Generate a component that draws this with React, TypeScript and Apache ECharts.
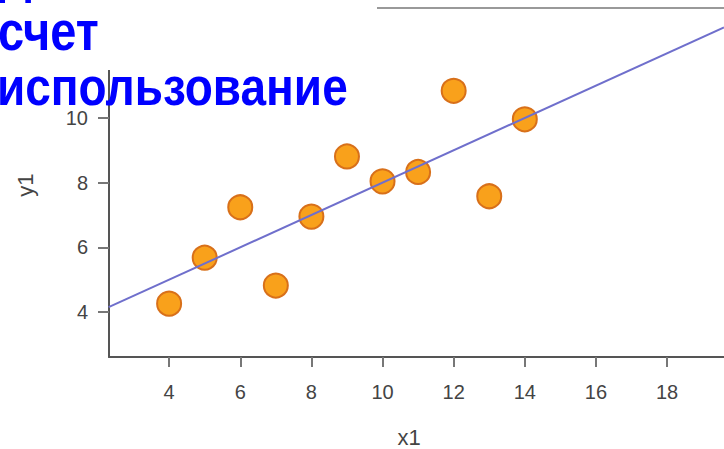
import React, { useEffect, useRef } from "react";
import * as echarts from "echarts";

const xValues = [10, 8, 13, 9, 11, 14, 6, 4, 12, 7, 5];
const yValues = [8.04, 6.95, 7.58, 8.81, 8.33, 9.96, 7.24, 4.26, 10.84, 4.82, 5.68];
const fitX = [2.3, 19.6];
const fitY = [4.15, 12.8];
const xTicks = [4, 6, 8, 10, 12, 14, 16, 18];
const yTicks = [4, 6, 8, 10];
const titleLines = ["Д", "счет", "использование"];

export default function App() {
  const ref = useRef<HTMLDivElement>(null);
  useEffect(() => {
    const chart = echarts.init(ref.current!, null, { renderer: "svg" });
    const font = "Liberation Sans, Arial, sans-serif";
    chart.setOption({
      animation: false,
      backgroundColor: "#ffffff",
      grid: { left: 109, top: 8, width: 615, height: 349, containLabel: false },
      xAxis: {
        type: "value",
        min: 2.31,
        max: 19.6,
        axisLine: { show: true, onZero: false, lineStyle: { color: "#555", width: 2 } },
        axisTick: { show: true, customValues: xTicks, length: 10, lineStyle: { color: "#777", width: 2 } },
        axisLabel: { customValues: xTicks, margin: 25, fontSize: 20, color: "#444", fontFamily: font },
        splitLine: { show: false },
      },
      yAxis: {
        type: "value",
        min: 2.61,
        max: 13.4,
        axisLine: { show: true, onZero: false, lineStyle: { color: "#555", width: 2 } },
        axisTick: { show: true, customValues: yTicks, length: 11, lineStyle: { color: "#777", width: 2 } },
        axisLabel: { customValues: yTicks, margin: 21, fontSize: 20, color: "#444", fontFamily: font },
        splitLine: { show: false },
      },
      series: [
        {
          type: "scatter",
          data: xValues.map((x, i) => [x, yValues[i]]),
          symbolSize: 24,
          itemStyle: { color: "#f9a11b", borderColor: "#d8701a", borderWidth: 2, opacity: 1 },
          z: 2,
        },
        {
          type: "line",
          data: fitX.map((x, i) => [x, fitY[i]]),
          symbol: "none",
          lineStyle: { color: "#6f6fcc", width: 2 },
          z: 3,
        },
      ],
      graphic: [
        { type: "line", z: 10, shape: { x1: 109, y1: 8, x2: 724, y2: 8 }, style: { stroke: "#999", lineWidth: 2 } },
        { type: "rect", z: 20, shape: { x: 0, y: 0, width: 377, height: 70 }, style: { fill: "#ffffff" } },
        {
          type: "text", z: 30, x: -1, y: -26, scaleY: 1.17,
          style: { text: titleLines[0], font: `bold 46px ${font}`, fill: "#0000ff", verticalAlign: "middle" },
        },
        {
          type: "text", z: 30, x: -2, y: 31, scaleY: 1.17,
          style: { text: titleLines[1], font: `bold 47px ${font}`, fill: "#0000ff", verticalAlign: "middle" },
        },
        {
          type: "text", z: 30, x: -3, y: 87, scaleY: 1.17,
          style: { text: titleLines[2], font: `bold 46px ${font}`, fill: "#0000ff", verticalAlign: "middle" },
        },
        {
          type: "text", z: 30, x: 409, y: 437,
          style: { text: "x1", font: `22px ${font}`, fill: "#444", align: "center", verticalAlign: "middle" },
        },
        {
          type: "text", z: 30, x: 25, y: 185, rotation: Math.PI / 2,
          style: { text: "y1", font: `22px ${font}`, fill: "#444", align: "center", verticalAlign: "middle" },
        },
      ],
    });
    return () => chart.dispose();
  }, []);
  return (
    <div
      ref={ref}
      style={{ position: "fixed", left: 0, top: 0, width: 724, height: 449, background: "#fff" }}
    />
  );
}
